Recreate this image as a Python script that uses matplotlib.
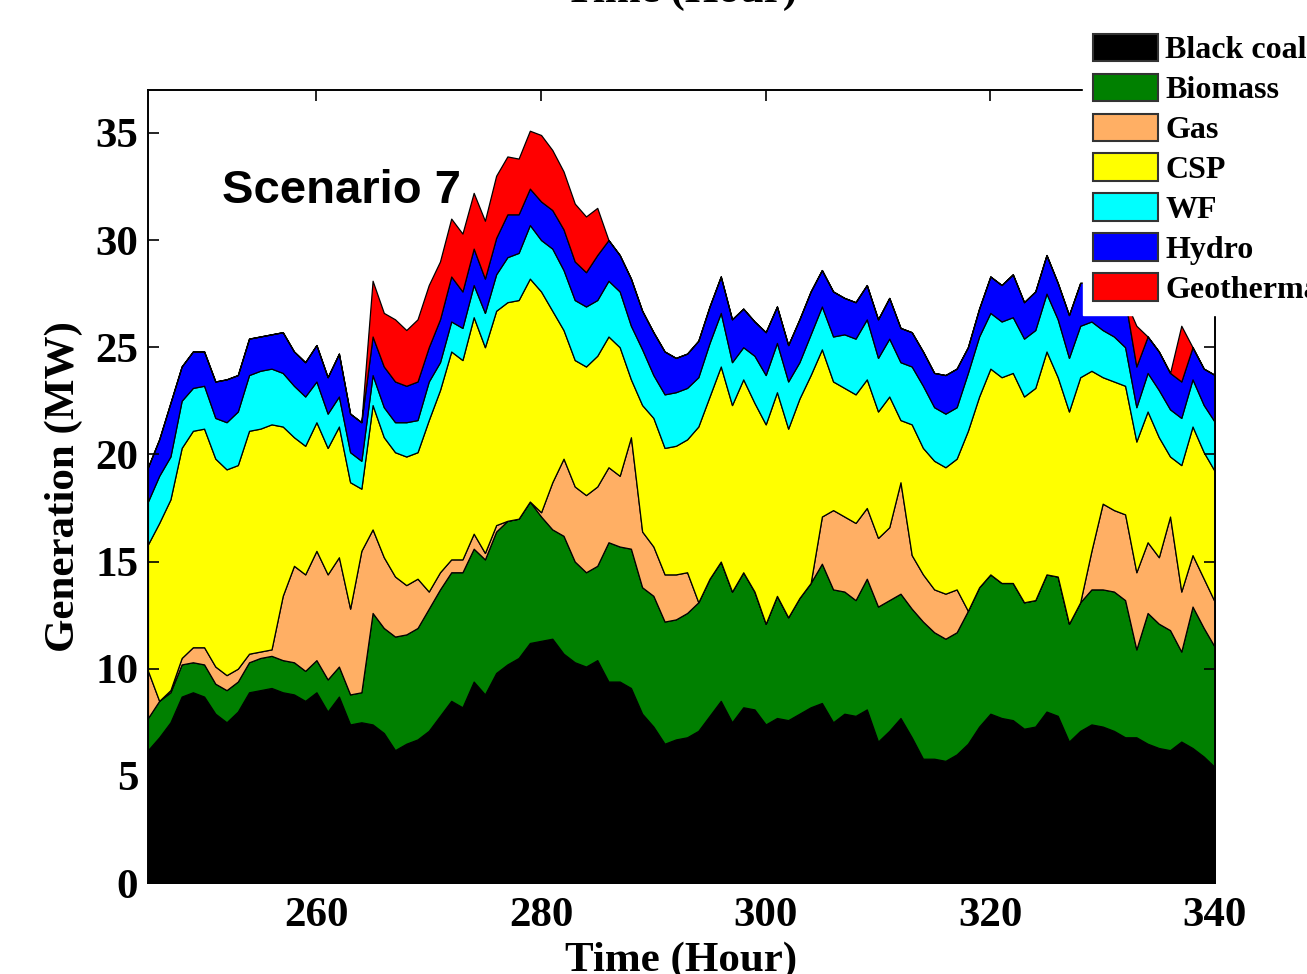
import numpy as np
import matplotlib
matplotlib.use('Agg')
import matplotlib.pyplot as plt

# hourly data, hours 245..340; values are the cumulative top of each stacked layer (MW)
hours = np.arange(245, 341)

coal_top = [6.2, 6.8, 7.5, 8.7, 8.9, 8.7, 7.9, 7.5, 8.0, 8.9,
            9.0, 9.1, 8.9, 8.8, 8.5, 8.9, 8.0, 8.7, 7.4, 7.5,
            7.4, 7.0, 6.2, 6.5, 6.7, 7.1, 7.8, 8.5, 8.2, 9.4,
            8.8, 9.8, 10.2, 10.5, 11.2, 11.3, 11.4, 10.7, 10.3, 10.1,
            10.4, 9.4, 9.4, 9.1, 7.9, 7.3, 6.5, 6.7, 6.8, 7.1,
            7.8, 8.5, 7.5, 8.2, 8.1, 7.4, 7.7, 7.6, 7.9, 8.2,
            8.4, 7.5, 7.9, 7.8, 8.1, 6.6, 7.1, 7.7, 6.8, 5.8,
            5.8, 5.7, 6.0, 6.5, 7.3, 7.9, 7.7, 7.6, 7.2, 7.3,
            8.0, 7.8, 6.6, 7.1, 7.4, 7.3, 7.1, 6.8, 6.8, 6.5,
            6.3, 6.2, 6.6, 6.3, 5.9, 5.4]

biomass_top = [7.7, 8.5, 8.9, 10.2, 10.3, 10.2, 9.3, 9.0, 9.4, 10.3,
               10.5, 10.6, 10.4, 10.3, 9.9, 10.4, 9.5, 10.1, 8.8, 8.9,
               12.6, 11.9, 11.5, 11.6, 11.9, 12.8, 13.7, 14.5, 14.5, 15.6,
               15.1, 16.4, 16.9, 17.0, 17.8, 17.1, 16.5, 16.2, 15.0, 14.5,
               14.8, 15.9, 15.7, 15.6, 13.8, 13.4, 12.2, 12.3, 12.6, 13.1,
               14.2, 15.0, 13.6, 14.5, 13.6, 12.1, 13.4, 12.4, 13.3, 14.0,
               14.9, 13.7, 13.6, 13.2, 14.2, 12.9, 13.2, 13.5, 12.8, 12.2,
               11.7, 11.4, 11.7, 12.7, 13.8, 14.4, 14.0, 14.0, 13.1, 13.2,
               14.4, 14.3, 12.1, 13.1, 13.7, 13.7, 13.6, 13.2, 10.9, 12.6,
               12.1, 11.8, 10.8, 12.9, 11.9, 11.0]

gas_top = [9.9, 8.5, 9.0, 10.5, 11.0, 11.0, 10.1, 9.7, 10.0, 10.7,
           10.8, 10.9, 13.4, 14.8, 14.4, 15.5, 14.4, 15.2, 12.8, 15.5,
           16.5, 15.2, 14.3, 13.9, 14.2, 13.6, 14.5, 15.1, 15.1, 16.3,
           15.4, 16.7, 16.9, 17.0, 17.8, 17.3, 18.7, 19.8, 18.5, 18.1,
           18.5, 19.4, 19.0, 20.8, 16.4, 15.7, 14.4, 14.4, 14.5, 13.1,
           14.2, 15.0, 13.6, 14.5, 13.6, 12.1, 13.4, 12.4, 13.3, 14.0,
           17.1, 17.4, 17.1, 16.8, 17.5, 16.1, 16.6, 18.7, 15.3, 14.4,
           13.7, 13.5, 13.7, 12.7, 13.8, 14.4, 14.0, 14.0, 13.1, 13.2,
           14.4, 14.3, 12.1, 13.1, 15.5, 17.7, 17.4, 17.2, 14.5, 15.9,
           15.2, 17.1, 13.6, 15.3, 14.2, 13.1]

csp_top = [15.8, 16.8, 17.9, 20.3, 21.1, 21.2, 19.8, 19.3, 19.5, 21.1,
           21.2, 21.4, 21.3, 20.8, 20.4, 21.5, 20.3, 21.3, 18.7, 18.4,
           22.3, 20.8, 20.1, 19.9, 20.1, 21.6, 23.0, 24.8, 24.4, 26.4,
           25.0, 26.7, 27.1, 27.2, 28.2, 27.6, 26.7, 25.8, 24.4, 24.1,
           24.6, 25.5, 25.0, 23.5, 22.3, 21.7, 20.3, 20.4, 20.7, 21.3,
           22.7, 24.1, 22.3, 23.5, 22.4, 21.4, 22.9, 21.2, 22.6, 23.7,
           24.9, 23.4, 23.1, 22.8, 23.5, 22.0, 22.7, 21.6, 21.4, 20.3,
           19.7, 19.4, 19.8, 21.1, 22.7, 24.0, 23.6, 23.8, 22.7, 23.1,
           24.8, 23.6, 22.0, 23.6, 23.9, 23.6, 23.4, 23.2, 20.6, 22.0,
           20.8, 19.9, 19.5, 21.3, 20.1, 19.2]

wf_top = [17.8, 19.0, 19.9, 22.5, 23.1, 23.2, 21.7, 21.5, 22.0, 23.7,
          23.9, 24.0, 23.8, 23.2, 22.7, 23.4, 21.9, 22.7, 20.1, 19.7,
          23.7, 22.2, 21.5, 21.5, 21.6, 23.4, 24.3, 26.2, 25.9, 27.9,
          26.6, 28.4, 29.2, 29.4, 30.7, 30.0, 29.6, 28.6, 27.2, 26.9,
          27.2, 28.1, 27.6, 26.0, 24.9, 23.7, 22.8, 22.9, 23.1, 23.6,
          25.2, 26.6, 24.3, 25.0, 24.6, 23.7, 25.2, 23.4, 24.3, 25.6,
          26.9, 25.5, 25.6, 25.4, 26.3, 24.5, 25.4, 24.3, 24.1, 23.2,
          22.2, 21.9, 22.2, 23.8, 25.5, 26.6, 26.2, 26.4, 25.4, 25.8,
          27.5, 26.3, 24.5, 26.0, 26.2, 25.8, 25.5, 25.0, 22.2, 23.8,
          23.0, 22.1, 21.7, 23.5, 22.3, 21.5]

hydro_top = [19.4, 20.7, 22.4, 24.1, 24.8, 24.8, 23.4, 23.5, 23.7, 25.4,
             25.5, 25.6, 25.7, 24.8, 24.3, 25.1, 23.6, 24.7, 21.9, 21.5,
             25.5, 24.1, 23.4, 23.2, 23.4, 25.0, 26.3, 28.3, 27.6, 29.6,
             28.2, 30.1, 31.2, 31.2, 32.4, 31.8, 31.4, 30.5, 29.0, 28.5,
             29.3, 30.0, 29.3, 28.2, 26.7, 25.7, 24.8, 24.5, 24.7, 25.3,
             26.9, 28.3, 26.3, 26.8, 26.2, 25.7, 26.9, 25.1, 26.3, 27.6,
             28.6, 27.6, 27.3, 27.1, 27.9, 26.3, 27.3, 25.9, 25.7, 24.8,
             23.8, 23.7, 24.0, 25.0, 26.8, 28.3, 27.9, 28.4, 27.1, 27.6,
             29.3, 28.0, 26.5, 28.0, 28.0, 27.8, 27.5, 27.2, 24.1, 25.5,
             24.8, 23.8, 23.4, 25.0, 24.0, 23.7]

geo_top = [19.4, 20.7, 22.4, 24.1, 24.8, 24.8, 23.4, 23.5, 23.7, 25.4,
           25.5, 25.6, 25.7, 24.8, 24.3, 25.1, 23.6, 24.7, 21.9, 21.5,
           28.1, 26.6, 26.3, 25.8, 26.3, 27.9, 29.0, 31.0, 30.3, 32.2,
           30.9, 33.0, 33.9, 33.8, 35.1, 34.9, 34.2, 33.2, 31.7, 31.1,
           31.5, 30.0, 29.3, 28.2, 26.7, 25.7, 24.8, 24.5, 24.7, 25.3,
           26.9, 28.3, 26.3, 26.8, 26.2, 25.7, 26.9, 25.1, 26.3, 27.6,
           28.6, 27.6, 27.3, 27.1, 27.9, 26.3, 27.3, 25.9, 25.7, 24.8,
           23.8, 23.7, 24.0, 25.0, 26.8, 28.3, 27.9, 28.4, 27.1, 27.6,
           29.3, 28.0, 26.5, 28.0, 28.0, 27.8, 27.5, 27.2, 26.0, 25.5,
           24.8, 23.8, 26.0, 25.0, 24.0, 23.7]

labels = ['Black coal', 'Biomass', 'Gas', 'CSP', 'WF', 'Hydro', 'Geothermal']
colors = ['#000000', '#008000', '#FFAF64', '#FFFF00', '#00FFFF', '#0000FF', '#FF0000']

# turn the cumulative tops into the height of each layer
tops = np.array([coal_top, biomass_top, gas_top, csp_top, wf_top, hydro_top, geo_top])
layers = np.diff(np.vstack([np.zeros(len(hours)), tops]), axis=0).clip(min=0)

plt.rcParams['font.family'] = ['Liberation Serif', 'DejaVu Serif']
plt.rcParams['font.weight'] = 'bold'

fig = plt.figure(figsize=(13.07, 9.74), dpi=100)
ax = fig.add_axes([0.1132, 0.0934, 0.8164, 0.8142])

polys = ax.stackplot(hours, layers, colors=colors, labels=labels,
                     edgecolor='k', linewidth=0.9)

ax.set_xlim(245, 340)
ax.set_ylim(0, 37)
ax.set_xticks([260, 280, 300, 320, 340])
ax.set_yticks(range(0, 36, 5))
ax.tick_params(direction='in', length=8, width=1.2, top=True, right=True,
               labelsize=31)
ax.tick_params(axis='x', pad=10)
ax.tick_params(axis='y', pad=7)
for sp in ax.spines.values():
    sp.set_linewidth(1.4)

ax.set_xlabel('Time (Hour)', fontsize=31, fontweight='bold', labelpad=5)
ax.set_ylabel('Generation (MW)', fontsize=31, fontweight='bold', labelpad=9)

ax.text(251.6, 32.3, 'Scenario 7', fontsize=34, fontweight='bold',
        family='Liberation Sans', va='center', ha='left')

# x label of the panel above, cut off by the figure edge
fig.text(681.5 / 1307, 1 - 2 / 974, 'Time (Hour)', ha='center', va='baseline',
         fontsize=31, fontweight='bold')

leg = fig.legend(polys, labels, loc='upper left',
                 bbox_to_anchor=(1083 / 1307, 1 - 24 / 974),
                 prop=dict(family='Liberation Serif', weight='bold', size=23),
                 handlelength=2.05, handleheight=0.94, labelspacing=0.26,
                 handletextpad=0.22, borderpad=0.3, borderaxespad=0,
                 frameon=True, fancybox=False, framealpha=1)
leg.get_frame().set_edgecolor('white')
for h in leg.legend_handles:
    h.set_edgecolor('#333333')
    h.set_linewidth(1.5)

fig.savefig('out.png', dpi=100)
